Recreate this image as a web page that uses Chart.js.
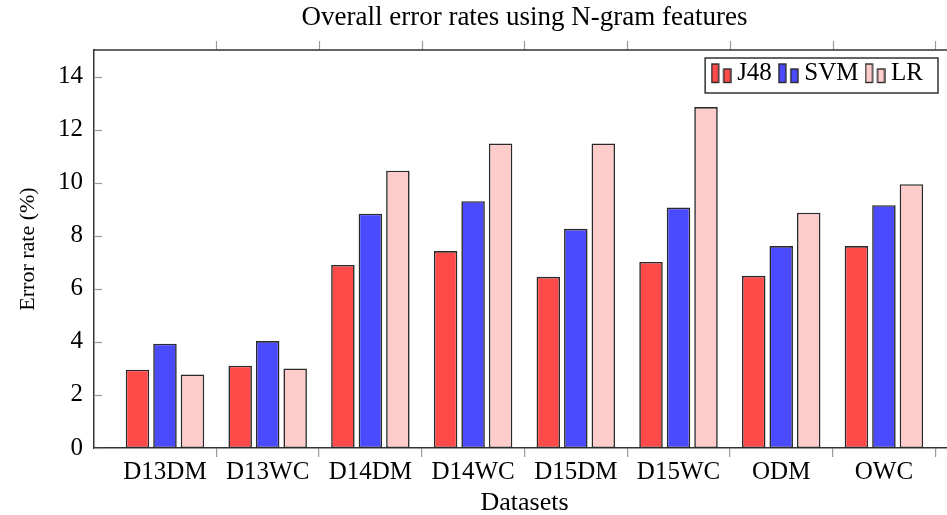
<!DOCTYPE html>
<html>
<head>
<meta charset="utf-8">
<script src="https://cdn.jsdelivr.net/npm/chart.js@4.4.1/dist/chart.umd.min.js"></script>
<style>
  html, body { margin: 0; padding: 0; background: #fff; overflow: hidden; }
  #wrap { width: 970px; height: 515px; position: relative; }
</style>
</head>
<body>
<div id="wrap"><canvas id="c"></canvas></div>
<script>
// ---- data ----
const categories = ['D13DM', 'D13WC', 'D14DM', 'D14WC', 'D15DM', 'D15WC', 'ODM', 'OWC'];
const seriesNames = ['J48', 'SVM', 'LR'];
const j48 = [2.95, 3.10, 6.90, 7.42, 6.45, 7.01, 6.49, 7.61];
const svm = [3.93, 4.03, 8.83, 9.30, 8.26, 9.06, 7.61, 9.15];
const lr  = [2.77, 3.00, 10.45, 11.48, 11.48, 12.85, 8.87, 9.94];
const yTickValues = [0, 2, 4, 6, 8, 10, 12, 14];

// ---- styles ----
const fillColors = ['rgb(255,74,74)', 'rgb(74,74,255)', 'rgb(255,204,204)'];
const edgeColor = '#2a2a2a';
const serif = "'Liberation Serif', 'Times New Roman', serif";
Chart.defaults.font.family = serif;
Chart.defaults.color = '#000';

function makeIcon(fill) {
  const c = document.createElement('canvas');
  c.width = 21; c.height = 21;
  const g = c.getContext('2d');
  g.fillStyle = fill; g.strokeStyle = edgeColor; g.lineWidth = 1.4;
  g.fillRect(1, 1, 7, 18.5); g.strokeRect(1, 1, 7, 18.5);
  g.fillRect(13, 6, 7, 13.5); g.strokeRect(13, 6, 7, 13.5);
  return c;
}
const icons = fillColors.map(makeIcon);

const toPoints = arr => arr.map((v, i) => ({ x: i, y: v }));
const allSeries = [j48, svm, lr];

const legendInside = {
  id: 'legendInside',
  beforeLayout(chart) {
    const lg = chart.legend;
    if (lg && !lg.__patched) {
      const fit = lg.fit;
      lg.fit = function () { fit.call(this); this.__h = this.height; this.height = 0; };
      lg.__patched = true;
    }
  },
  afterLayout(chart) {
    const lg = chart.legend, a = chart.chartArea;
    if (!lg) return;
    lg.top = a.top - 2;
    lg.height = lg.__h || 50;
    lg.bottom = lg.top + lg.height;
    lg.right = a.right - 19;
    lg.left = a.left + 300;
    lg.width = lg.right - lg.left;
  },
  afterDraw(chart) {
    const lg = chart.legend;
    if (!lg || !lg.legendHitBoxes || !lg.legendHitBoxes.length) return;
    const hb = lg.legendHitBoxes;
    const first = hb[0], last = hb[hb.length - 1];
    const ctx = chart.ctx;
    const l = first.left - 12.5, r = last.left + last.width + 15;
    const t = first.top - 3, b = first.top + first.height + 7;
    ctx.save();
    ctx.strokeStyle = '#333'; ctx.lineWidth = 1.5;
    ctx.strokeRect(l, t, r - l, b - t);
    ctx.restore();
  }
};

const frame = {
  id: 'frame',
  afterDraw(chart) {
    const { ctx, chartArea: a } = chart;
    const x = chart.scales.x, y = chart.scales.y;
    const line = (x1, y1, x2, y2) => { ctx.beginPath(); ctx.moveTo(x1, y1); ctx.lineTo(x2, y2); ctx.stroke(); };
    ctx.save();
    ctx.strokeStyle = '#9a9a9a'; ctx.lineWidth = 1.2;
    y.ticks.forEach(t => {
      const py = Math.round(y.getPixelForValue(t.value)) + 0.5;
      line(a.left, py, a.left + 8, py);
      line(a.right, py, a.right - 8, py);
    });
    x.ticks.forEach(t => {
      const px = Math.round(x.getPixelForValue(t.value)) + 0.5;
      line(px, a.top, px, a.top - 9);
    });
    ctx.strokeStyle = '#333'; ctx.lineWidth = 1.5;
    ctx.beginPath();
    ctx.moveTo(a.left, a.top); ctx.lineTo(a.right, a.top); ctx.lineTo(a.right, a.bottom);
    ctx.stroke();
    ctx.restore();
  }
};

new Chart(document.getElementById('c'), {
  type: 'bar',
  data: {
    datasets: seriesNames.map((name, k) => ({
      label: name,
      data: toPoints(allSeries[k]),
      backgroundColor: fillColors[k],
      borderColor: edgeColor,
      borderWidth: 1.6,
      borderSkipped: false,
      categoryPercentage: 0.803,
      barPercentage: 0.855
    }))
  },
  options: {
    responsive: true,
    maintainAspectRatio: false,
    animation: false,
    devicePixelRatio: 1,
    layout: { padding: { left: 0, right: 15, top: 0, bottom: 0 } },
    plugins: {
      tooltip: { enabled: false },
      title: {
        display: true,
        fullSize: false,
        text: 'Overall error rates using N-gram features',
        color: '#000',
        font: { size: 27, weight: 'normal', family: serif, lineHeight: 1.2 },
        padding: { top: 2, bottom: 15.6 }
      },
      legend: {
        display: true,
        position: 'top',
        align: 'end',
        labels: {
          usePointStyle: true,
          boxWidth: 7,
          boxHeight: 7,
          padding: 13,
          color: '#000',
          font: { size: 25, family: serif },
          generateLabels(chart) {
            const items = Chart.defaults.plugins.legend.labels.generateLabels(chart);
            items.forEach((it, i) => { it.pointStyle = icons[i]; });
            return items;
          }
        }
      }
    },
    scales: {
      x: {
        type: 'linear',
        position: 'bottom',
        offset: false,
        min: -0.691,
        max: 7.692,
        afterBuildTicks(scale) {
          scale.ticks = categories.map((c, i) => ({ value: i + 0.5 }));
        },
        afterFit(scale) { scale.height = 67; scale.paddingLeft = 0; scale.paddingRight = 0; },
        ticks: {
          autoSkip: false, maxRotation: 0, minRotation: 0, padding: 0,
          labelOffset: -51.35, color: '#000',
          font: { size: 25, family: serif, lineHeight: 1.2 },
          callback: (value, index) => categories[index]
        },
        grid: { display: true, offset: false, drawOnChartArea: false, drawTicks: true, tickLength: 9, color: '#9a9a9a', lineWidth: 1.2 },
        border: { display: true, color: '#333', width: 1.5 },
        title: { display: true, text: 'Datasets', color: '#000', font: { size: 26, family: serif, lineHeight: 0.9 }, padding: { top: 0, bottom: 0 } }
      },
      y: {
        type: 'linear',
        position: 'left',
        min: 0, max: 15,
        afterBuildTicks(scale) { scale.ticks = yTickValues.map(v => ({ value: v })); },
        afterFit(scale) { scale.width = 94; },
        ticks: { padding: 11, color: '#000', font: { size: 25, family: serif, lineHeight: 1.2 } },
        grid: { display: false, drawOnChartArea: false, drawTicks: false },
        border: { display: true, color: '#333', width: 1.5 },
        title: { display: true, text: 'Error rate (%)', color: '#000', font: { size: 22, family: serif, lineHeight: 1.2 }, padding: { top: 14.8, bottom: 0 } }
      }
    }
  },
  plugins: [legendInside, frame]
});
</script>
</body>
</html>
